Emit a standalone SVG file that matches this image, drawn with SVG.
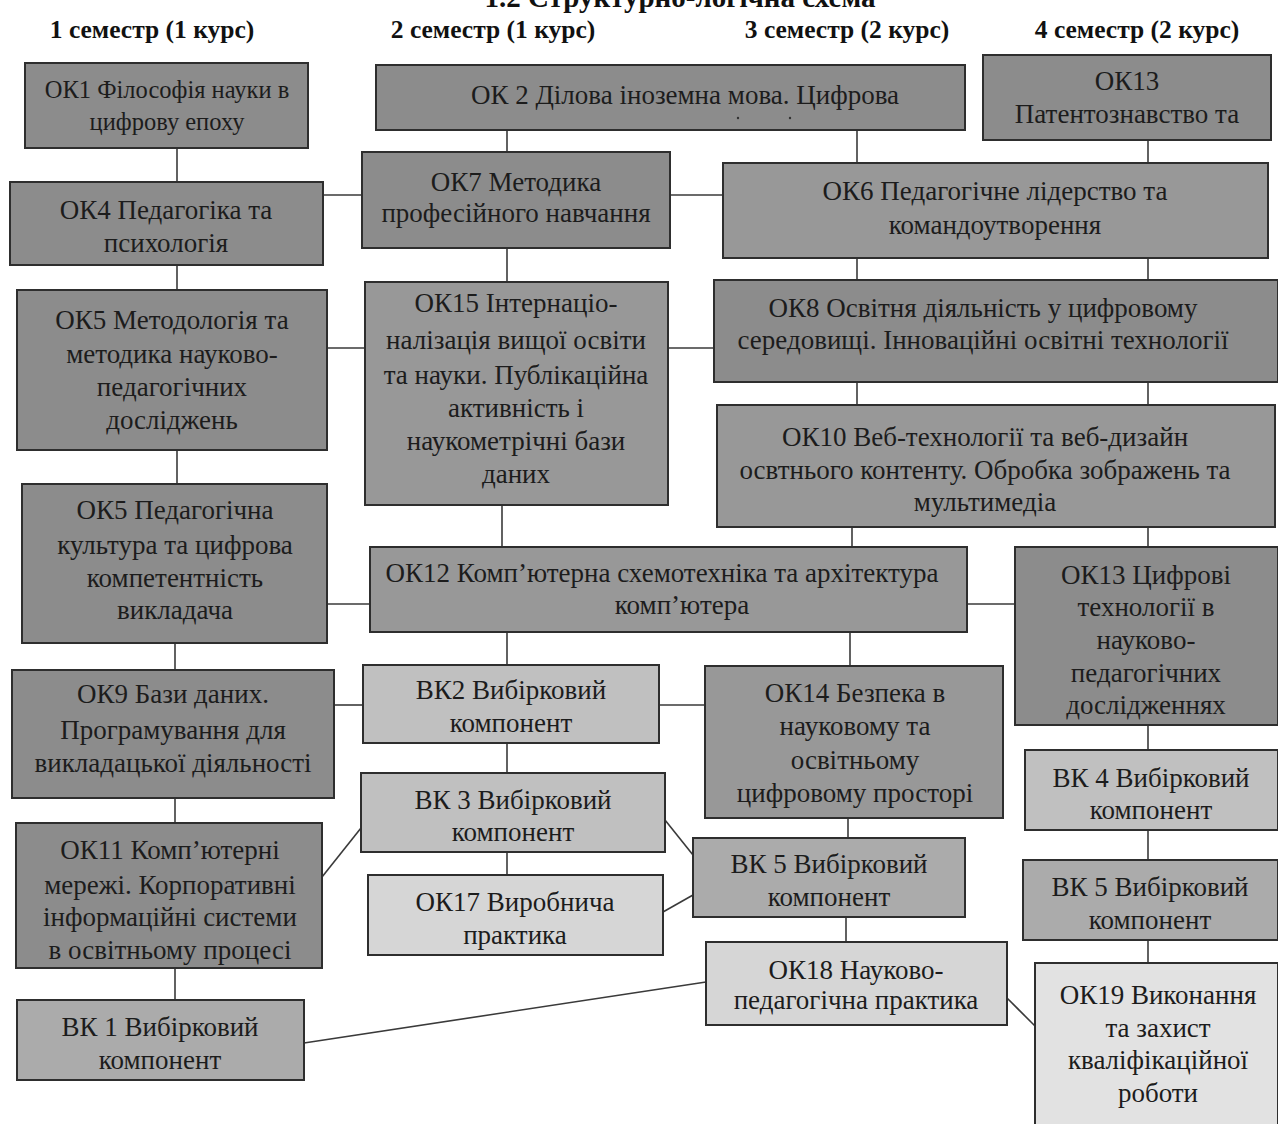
<svg xmlns="http://www.w3.org/2000/svg" width="1278" height="1124" viewBox="0 0 1278 1124">
<style>
.bg{fill:#ffffff}
rect.d{fill:#8c8c8c;stroke:#2e2e2e;stroke-width:2}
rect.d2{fill:#989898;stroke:#2e2e2e;stroke-width:2}
rect.m{fill:#ababab;stroke:#2e2e2e;stroke-width:2}
rect.l{fill:#c0c0c0;stroke:#2e2e2e;stroke-width:2}
rect.xl{fill:#d6d6d6;stroke:#2e2e2e;stroke-width:2}
rect.xxl{fill:#e2e2e2;stroke:#2e2e2e;stroke-width:2}
text{font-family:"Liberation Serif","DejaVu Serif",serif;font-size:27px;fill:#1c1c1c;text-anchor:middle}
text.h{font-weight:bold;font-size:25.5px;fill:#111}
text.s{font-size:24.5px}
.c line{stroke:#3a3a3a;stroke-width:1.6;fill:none}
</style>
<rect class="bg" x="0" y="0" width="1278" height="1124"/>
<text class="h" x="680" y="7" style="font-size:29px">1.2 Структурно-логічна схема</text>
<g id="headers">
<text class="h" x="152" y="38">1 семестр (1 курс)</text>
<text class="h" x="493" y="38">2 семестр (1 курс)</text>
<text class="h" x="847" y="38">3 семестр (2 курс)</text>
<text class="h" x="1137" y="38">4 семестр (2 курс)</text>
</g>
<g class="c" id="connectors">
<line x1="177" y1="148" x2="177" y2="182"/>
<line x1="323" y1="195" x2="362" y2="195"/>
<line x1="670" y1="195" x2="723" y2="195"/>
<line x1="507" y1="130" x2="507" y2="152"/>
<line x1="857" y1="130" x2="857" y2="163"/>
<line x1="1148" y1="140" x2="1148" y2="163"/>
<line x1="177" y1="265" x2="177" y2="290"/>
<line x1="507" y1="248" x2="507" y2="282"/>
<line x1="857" y1="258" x2="857" y2="280"/>
<line x1="1148" y1="258" x2="1148" y2="280"/>
<line x1="327" y1="348" x2="365" y2="348"/>
<line x1="668" y1="348" x2="714" y2="348"/>
<line x1="857" y1="382" x2="857" y2="405"/>
<line x1="1148" y1="382" x2="1148" y2="405"/>
<line x1="177" y1="450" x2="177" y2="484"/>
<line x1="502" y1="505" x2="502" y2="547"/>
<line x1="852" y1="527" x2="852" y2="547"/>
<line x1="1148" y1="527" x2="1148" y2="547"/>
<line x1="327" y1="604" x2="370" y2="604"/>
<line x1="967" y1="604" x2="1015" y2="604"/>
<line x1="175" y1="643" x2="175" y2="670"/>
<line x1="507" y1="632" x2="507" y2="665"/>
<line x1="850" y1="632" x2="850" y2="666"/>
<line x1="334" y1="705" x2="363" y2="705"/>
<line x1="659" y1="705" x2="705" y2="705"/>
<line x1="1148" y1="725" x2="1148" y2="750"/>
<line x1="507" y1="743" x2="507" y2="773"/>
<line x1="175" y1="798" x2="175" y2="823"/>
<line x1="322" y1="877" x2="361" y2="828"/>
<line x1="507" y1="852" x2="507" y2="875"/>
<line x1="665" y1="820" x2="693" y2="855"/>
<line x1="663" y1="912" x2="693" y2="895"/>
<line x1="848" y1="818" x2="848" y2="838"/>
<line x1="846" y1="917" x2="846" y2="942"/>
<line x1="304" y1="1043" x2="706" y2="982"/>
<line x1="1007" y1="998" x2="1035" y2="1026"/>
<line x1="1148" y1="830" x2="1148" y2="860"/>
<line x1="1148" y1="940" x2="1148" y2="963"/>
<line x1="175" y1="968" x2="175" y2="1000"/>
</g>
<g id="ok1"><rect class="d" x="25" y="63" width="283" height="85"/><text class="s" x="167" y="98">ОК1 Філософія науки в</text><text class="s" x="167" y="130">цифрову епоху</text></g>
<g id="ok2"><rect class="d" x="376" y="65" width="589" height="65"/><text x="685" y="104">ОК 2 Ділова іноземна мова. Цифрова</text><circle cx="738" cy="118" r="1.2" fill="#333"/><circle cx="790" cy="118" r="1.2" fill="#333"/></g>
<g id="ok13a"><rect class="d" x="983" y="55" width="288" height="85"/><text x="1127" y="90">ОК13</text><text x="1127" y="123">Патентознавство та</text></g>
<g id="ok4"><rect class="d" x="10" y="182" width="313" height="83"/><text x="166" y="219">ОК4 Педагогіка та</text><text x="166" y="252">психологія</text></g>
<g id="ok7"><rect class="d" x="362" y="152" width="308" height="96"/><text x="516" y="191">ОК7 Методика</text><text x="516" y="222">професійного навчання</text></g>
<g id="ok6"><rect class="d2" x="723" y="163" width="545" height="95"/><text x="995" y="200">ОК6 Педагогічне  лідерство та</text><text x="995" y="234">командоутворення</text></g>
<g id="ok5a"><rect class="d" x="17" y="290" width="310" height="160"/><text x="172" y="329">ОК5 Методологія та</text><text x="172" y="363">методика науково-</text><text x="172" y="396">педагогічних</text><text x="172" y="429">досліджень</text></g>
<g id="ok15"><rect class="d2" x="365" y="282" width="303" height="223"/><text x="516" y="312">ОК15 Інтернаціо-</text><text x="516" y="349">налізація вищої освіти</text><text x="516" y="384">та науки. Публікаційна</text><text x="516" y="417">активність і</text><text x="516" y="450">наукометрічні бази</text><text x="516" y="483">даних</text></g>
<g id="ok8"><rect class="d" x="714" y="280" width="564" height="102"/><text x="983" y="317">ОК8 Освітня діяльність у цифровому</text><text x="983" y="349">середовищі. Інноваційні освітні технології</text></g>
<g id="ok10"><rect class="d2" x="717" y="405" width="558" height="122"/><text x="985" y="446">ОК10 Веб-технології та веб-дизайн</text><text x="985" y="479">освтнього контенту. Обробка зображень та</text><text x="985" y="511">мультимедіа</text></g>
<g id="ok5b"><rect class="d" x="22" y="484" width="305" height="159"/><text x="175" y="519">ОК5 Педагогічна</text><text x="175" y="554">культура та цифрова</text><text x="175" y="587">компетентність</text><text x="175" y="619">викладача</text></g>
<g id="ok12"><rect class="d2" x="370" y="547" width="597" height="85"/><text x="662" y="582">ОК12 Комп’ютерна схемотехніка та архітектура</text><text x="682" y="614">комп’ютера</text></g>
<g id="ok13b"><rect class="d" x="1015" y="547" width="263" height="178"/><text x="1146" y="584">ОК13 Цифрові</text><text x="1146" y="616">технології в</text><text x="1146" y="649">науково-</text><text x="1146" y="682">педагогічних</text><text x="1146" y="714">дослідженнях</text></g>
<g id="ok9"><rect class="d" x="12" y="670" width="322" height="128"/><text x="173" y="703">ОК9 Бази даних.</text><text x="173" y="739">Програмування для</text><text x="173" y="772">викладацької діяльності</text></g>
<g id="vk2"><rect class="l" x="363" y="665" width="296" height="78"/><text x="511" y="699">ВК2 Вибірковий</text><text x="511" y="732">компонент</text></g>
<g id="ok14"><rect class="d2" x="705" y="666" width="298" height="152"/><text x="855" y="702">ОК14 Безпека в</text><text x="855" y="735">науковому та</text><text x="855" y="769">освітньому</text><text x="855" y="802">цифровому просторі</text></g>
<g id="vk4"><rect class="l" x="1025" y="750" width="253" height="80"/><text x="1151" y="787">ВК 4 Вибірковий</text><text x="1151" y="819">компонент</text></g>
<g id="vk3"><rect class="l" x="361" y="773" width="304" height="79"/><text x="513" y="809">ВК 3 Вибірковий</text><text x="513" y="841">компонент</text></g>
<g id="ok11"><rect class="d" x="16" y="823" width="306" height="145"/><text x="170" y="859">ОК11 Комп’ютерні</text><text x="170" y="894">мережі.  Корпоративні</text><text x="170" y="926">інформаційні системи</text><text x="170" y="959">в освітньому процесі</text></g>
<g id="ok17"><rect class="xl" x="368" y="875" width="295" height="80"/><text x="515" y="911">ОК17 Виробнича</text><text x="515" y="944">практика</text></g>
<g id="vk5a"><rect class="m" x="693" y="838" width="272" height="79"/><text x="829" y="873">ВК 5 Вибірковий</text><text x="829" y="906">компонент</text></g>
<g id="vk5b"><rect class="m" x="1023" y="860" width="255" height="80"/><text x="1150" y="896">ВК 5 Вибірковий</text><text x="1150" y="929">компонент</text></g>
<g id="ok18"><rect class="xl" x="706" y="942" width="301" height="83"/><text x="856" y="979">ОК18 Науково-</text><text x="856" y="1009">педагогічна  практика</text></g>
<g id="ok19"><rect class="xxl" x="1035" y="963" width="243" height="170"/><text x="1158" y="1004">ОК19 Виконання</text><text x="1158" y="1037">та захист</text><text x="1158" y="1069">кваліфікаційної</text><text x="1158" y="1102">роботи</text></g>
<g id="vk1"><rect class="m" x="17" y="1000" width="287" height="80"/><text x="160" y="1036">ВК 1 Вибірковий</text><text x="160" y="1069">компонент</text></g>
</svg>
